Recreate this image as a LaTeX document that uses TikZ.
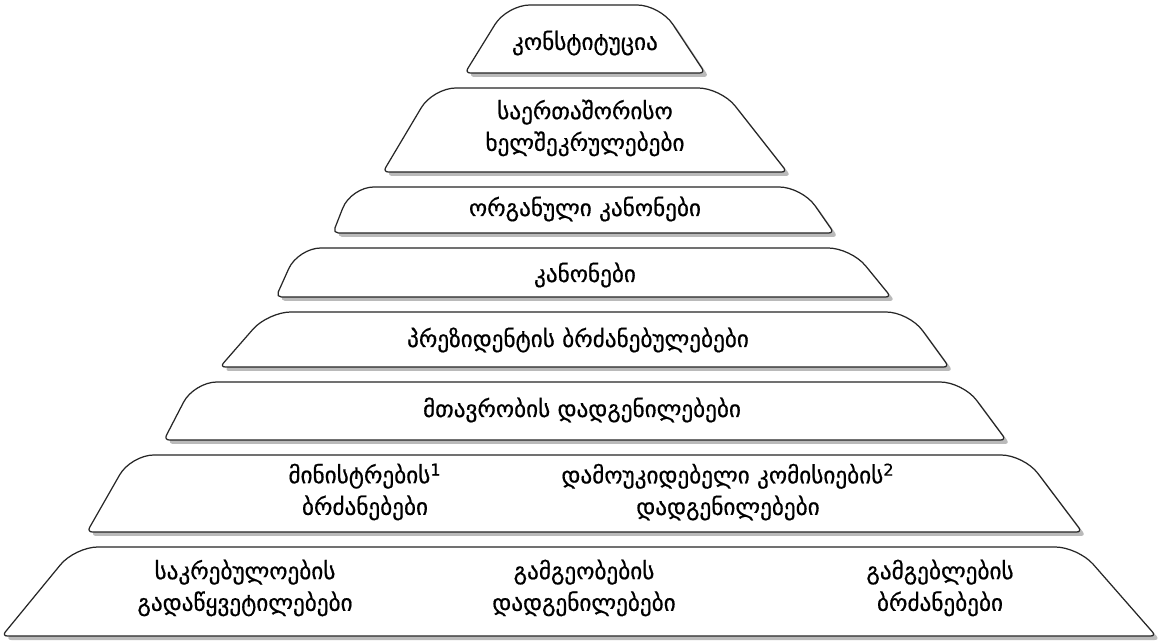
\documentclass[tikz,border=0pt]{standalone}
\usepackage{fontspec}
\setmainfont{DejaVu Sans}
\newfontfamily\geofont{DejaVu Sans}[FakeBold=0.6]
\tikzset{
  tier/.style={draw=black!85, line width=0.7pt, fill=white},
  tier shadow/.style={fill=black!27, shift={(4,4)}},
  lbl/.style={font=\geofont\fontsize{13.2}{18}\selectfont, align=center, inner sep=0pt},
}
\newcommand{\tier}[6]{%
  \fill[tier shadow] ({(#1+#4)/2},#6) [rounded corners=3pt] -- (#1,#6) [rounded corners=13pt] -- (#2,#5) -- (#3,#5) [rounded corners=3pt] -- (#4,#6) -- cycle;
  \draw[tier] ({(#1+#4)/2},#6) [rounded corners=3pt] -- (#1,#6) [rounded corners=13pt] -- (#2,#5) -- (#3,#5) [rounded corners=3pt] -- (#4,#6) -- cycle;
}

\begin{document}
\begin{tikzpicture}[x=0.02cm, y=-0.02cm]
  \useasboundingbox (0,0) rectangle (1163,641);
  \tier{465}{507}{660}{705}{5}{73}
  \tier{383}{433}{721}{787}{88}{172}
  \tier{333}{351}{802}{834}{187}{233}
  \tier{276}{298}{851}{891}{248}{297}
  \tier{220}{268}{909}{949}{312}{367}
  \tier{164}{194}{963}{1006}{382}{440}
  \tier{87}{131}{1024}{1082}{455}{532}
  \tier{2}{75}{1078}{1156}{547}{636}

  \node[lbl] (konst) at (585,43) {კონსტიტუცია};
  \node[lbl] (saertash) at (585,128) {საერთაშორისო\\ხელშეკრულებები};
  \node[lbl] (organ) at (585,209) {ორგანული კანონები};
  \node[lbl] (kanon) at (585,275) {კანონები};
  \node[lbl] (prez) at (578,340) {პრეზიდენტის ბრძანებულებები};
  \node[lbl] (mtavr) at (582,410) {მთავრობის დადგენილებები};
  \node[lbl] (minist) at (365,492) {მინისტრების\textsuperscript{1}\\ბრძანებები};
  \node[lbl] (komis) at (728,492) {დამოუკიდებელი კომისიების\textsuperscript{2}\\დადგენილებები};
  \node[lbl] (sakreb) at (245,588) {საკრებულოების\\გადაწყვეტილებები};
  \node[lbl] (gamgeob) at (584,588) {გამგეობების\\დადგენილებები};
  \node[lbl] (gamgebl) at (940,588) {გამგებლების\\ბრძანებები};
\end{tikzpicture}
\end{document}
